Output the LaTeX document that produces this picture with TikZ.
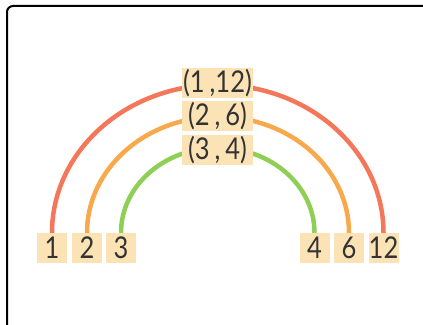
\documentclass[tikz,border=0pt]{standalone}
\usepackage{fontspec}
\setmainfont{Lato}[FakeStretch=0.85]
\usetikzlibrary{positioning,backgrounds}
\definecolor{peach}{HTML}{FCE3B6}
\definecolor{ink}{HTML}{333333}
\definecolor{arcRed}{HTML}{F4775A}
\definecolor{arcOrange}{HTML}{F7A94B}
\definecolor{arcGreen}{HTML}{8FCF55}

\begin{document}
\begin{tikzpicture}[x=1pt,y=1pt,font=\fontsize{30}{30}\selectfont,
  box/.style={fill=peach,text=ink,inner sep=0pt,minimum width=30pt,minimum height=30pt},
  pair/.style={box,minimum width=71pt},
  rainbow/.style={line width=4.5pt}]
  \useasboundingbox (0,0) rectangle (423,324);
  \draw[line width=2pt,rounded corners=6pt] (7,-20) -- (7,318) -- (440,318);
  % factor boxes along the bottom
  \foreach \v/\x in {1/52,2/87,3/121,4/314.5,6/349,12/383.5}{
    \node[box] (n\v) at (\x,76) {\v};}
  % factor pairs stacked at the top
  \node[pair] (p1) at (217.5,241) {(1\,,12)};
  \node[pair,below=3pt of p1] (p2) {(2\,,\,6)};
  \node[pair,below=3pt of p2] (p3) {(3\,,\,4)};
  \begin{scope}[on background layer]
    \draw[rainbow,arcRed] (n1.north) arc[start angle=180,end angle=0,x radius=165.75,y radius=148];
    \draw[rainbow,arcOrange] (n2.north) arc[start angle=180,end angle=0,x radius=131,y radius=116];
    \draw[rainbow,arcGreen] (n3.north) arc[start angle=180,end angle=0,x radius=96.75,y radius=85];
  \end{scope}
\end{tikzpicture}
\end{document}
